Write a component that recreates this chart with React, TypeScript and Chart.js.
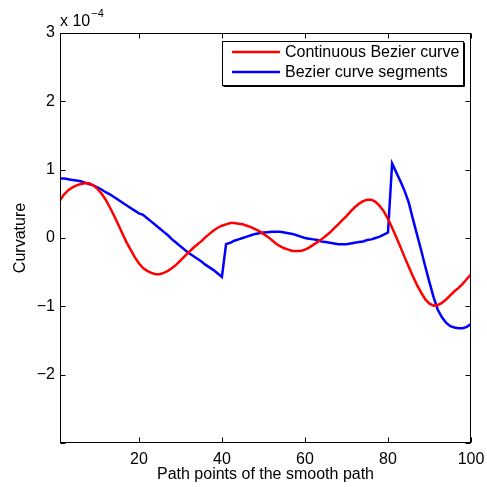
import { useEffect, useRef } from "react";
import { Chart, registerables } from "chart.js";

Chart.register(...registerables);

// Curvature values in units of 1e-4, one per path point (1..100)
const CONTINUOUS = [
  0.55, 0.64, 0.70, 0.74, 0.77, 0.79, 0.80, 0.80, 0.77, 0.72,
  0.65, 0.56, 0.45, 0.33, 0.20, 0.07, -0.06, -0.17, -0.28, -0.37,
  -0.44, -0.48, -0.51, -0.53, -0.53, -0.51, -0.48, -0.44, -0.39, -0.33,
  -0.27, -0.21, -0.15, -0.10, -0.05, 0.01, 0.06, 0.11, 0.15, 0.18,
  0.20, 0.22, 0.22, 0.21, 0.20, 0.18, 0.16, 0.13, 0.10, 0.06,
  0.02, -0.03, -0.08, -0.12, -0.15, -0.17, -0.19, -0.19, -0.19, -0.17,
  -0.14, -0.10, -0.06, -0.02, 0.03, 0.08, 0.14, 0.20, 0.26, 0.32,
  0.39, 0.45, 0.50, 0.54, 0.56, 0.56, 0.53, 0.47, 0.39, 0.28,
  0.15, 0.01, -0.13, -0.28, -0.42, -0.56, -0.69, -0.80, -0.90, -0.96,
  -0.99, -0.98, -0.95, -0.90, -0.84, -0.78, -0.73, -0.67, -0.60, -0.53,
];

const SEGMENTS = [
  0.87, 0.87, 0.86, 0.85, 0.84, 0.83, 0.81, 0.79, 0.77, 0.74,
  0.71, 0.67, 0.64, 0.60, 0.56, 0.52, 0.48, 0.44, 0.40, 0.36,
  0.34, 0.29, 0.24, 0.19, 0.14, 0.09, 0.04, -0.02, -0.07, -0.12,
  -0.17, -0.22, -0.26, -0.30, -0.34, -0.39, -0.43, -0.47, -0.52, -0.57,
  -0.09, -0.07, -0.04, -0.02, 0.00, 0.02, 0.04, 0.06, 0.07, 0.08,
  0.085, 0.09, 0.09, 0.09, 0.08, 0.07, 0.06, 0.04, 0.02, 0.00,
  -0.01, -0.02, -0.03, -0.05, -0.06, -0.07, -0.08, -0.09, -0.09, -0.09,
  -0.08, -0.07, -0.06, -0.05, -0.03, -0.02, 0.00, 0.02, 0.05, 0.08,
  1.09, 0.96, 0.83, 0.69, 0.52, 0.28, 0.05, -0.18, -0.42, -0.65,
  -0.87, -1.05, -1.16, -1.24, -1.29, -1.31, -1.32, -1.32, -1.30, -1.26,
];

const X_TICKS = [20, 40, 60, 80, 100];
const Y_TICKS = [-3, -2, -1, 0, 1, 2, 3];
const SERIES_NAMES = ["Continuous Bezier curve", "Bezier curve segments"];
const SERIES_COLORS = ["#ff0000", "#0000ff"];
const X_TITLE = "Path points of the smooth path";
const Y_TITLE = "Curvature";
const EXPONENT_BASE = "x 10";
const EXPONENT = "\u22124";

const FONT = "'Liberation Sans', Arial, Helvetica, sans-serif";

export default function App() {
  const ref = useRef<HTMLCanvasElement>(null);

  useEffect(() => {
    const canvas = ref.current;
    if (!canvas) return;

    const decor = {
      id: "matlabDecor",
      afterDraw(chart: any) {
        const { ctx, chartArea, scales } = chart;
        const { left, right, top, bottom } = chartArea;
        const L = Math.round(left) + 0.5;
        const R = Math.round(right) - 0.5;
        const T = Math.round(top) + 0.5;
        const B = Math.round(bottom) - 0.5;
        ctx.save();
        ctx.strokeStyle = "#000";
        ctx.lineWidth = 1;
        ctx.strokeRect(L, T, R - L, B - T);
        const tl = 5;
        ctx.beginPath();
        for (const v of X_TICKS) {
          const p = Math.round(scales.x.getPixelForValue(v)) + 0.5;
          ctx.moveTo(p, B);
          ctx.lineTo(p, B - tl);
          ctx.moveTo(p, T);
          ctx.lineTo(p, T + tl);
        }
        for (const v of Y_TICKS) {
          const p = Math.round(scales.y.getPixelForValue(v)) + 0.5;
          ctx.moveTo(L, p);
          ctx.lineTo(L + tl, p);
          ctx.moveTo(R, p);
          ctx.lineTo(R - tl, p);
        }
        ctx.stroke();

        // exponent label
        ctx.fillStyle = "#000";
        ctx.textAlign = "left";
        ctx.textBaseline = "alphabetic";
        ctx.font = `16px ${FONT}`;
        ctx.fillText(EXPONENT_BASE, left, top - 7);
        const w = ctx.measureText(EXPONENT_BASE).width;
        ctx.font = `11px ${FONT}`;
        ctx.fillText(EXPONENT, left + w + 1, top - 16);

        // legend
        const lw = 241;
        const lh = 44;
        const lx = Math.round(right) - 8 - lw;
        const ly = Math.round(top) + 8;
        ctx.fillStyle = "#fff";
        ctx.fillRect(lx, ly, lw, lh);
        ctx.strokeStyle = "#000";
        ctx.lineWidth = 1;
        ctx.strokeRect(lx + 0.5, ly + 0.5, lw, lh);
        ctx.beginPath();
        ctx.moveTo(lx + 1.5, ly + lh + 1.5);
        ctx.lineTo(lx + lw + 1.5, ly + lh + 1.5);
        ctx.lineTo(lx + lw + 1.5, ly + 1.5);
        ctx.stroke();
        ctx.font = `16px ${FONT}`;
        ctx.textBaseline = "middle";
        SERIES_NAMES.forEach((name, i) => {
          const yy = ly + 11 + i * 20;
          ctx.strokeStyle = SERIES_COLORS[i];
          ctx.lineWidth = 2.5;
          ctx.beginPath();
          ctx.moveTo(lx + 10, yy);
          ctx.lineTo(lx + 58, yy);
          ctx.stroke();
          ctx.fillStyle = "#000";
          ctx.fillText(name, lx + 63, yy + 1);
        });
        ctx.restore();
      },
    };

    const mkData = (arr: number[]) => arr.map((v, i) => ({ x: i + 1, y: v }));

    const chart = new Chart(canvas, {
      type: "line",
      data: {
        datasets: [
          {
            label: SERIES_NAMES[0],
            data: mkData(CONTINUOUS),
            borderColor: SERIES_COLORS[0],
            borderWidth: 2.5,
            pointRadius: 0,
            tension: 0,
            fill: false,
          },
          {
            label: SERIES_NAMES[1],
            data: mkData(SEGMENTS),
            borderColor: SERIES_COLORS[1],
            borderWidth: 2.5,
            pointRadius: 0,
            tension: 0,
            fill: false,
          },
        ],
      },
      options: {
        animation: false,
        responsive: false,
        events: [],
        layout: { padding: { top: 33, right: 16, left: 0, bottom: 0 } },
        plugins: { legend: { display: false }, tooltip: { enabled: false } },
        scales: {
          x: {
            type: "linear",
            min: 1,
            max: 100,
            afterBuildTicks: (s: any) => {
              s.ticks = X_TICKS.map((v) => ({ value: v }));
            },
            afterFit: (s: any) => {
              s.height = 44;
              s.paddingLeft = 0;
              s.paddingRight = 0;
            },
            grid: { display: false, drawTicks: false },
            border: { display: false },
            ticks: {
              color: "#000",
              font: { family: FONT, size: 16 },
              padding: 7,
              maxRotation: 0,
              autoSkip: false,
              callback: (v: any) => String(v),
            },
            title: {
              display: true,
              text: X_TITLE,
              color: "#000",
              font: { family: FONT, size: 16 },
              padding: { top: 0, bottom: 3 },
            },
          },
          y: {
            type: "linear",
            min: -3,
            max: 3,
            afterBuildTicks: (s: any) => {
              s.ticks = Y_TICKS.map((v) => ({ value: v }));
            },
            afterFit: (s: any) => {
              s.width = 60;
              s.paddingTop = 0;
              s.paddingBottom = 0;
            },
            grid: { display: false, drawTicks: false },
            border: { display: false },
            ticks: {
              color: "#000",
              font: { family: FONT, size: 16 },
              padding: 5,
              autoSkip: false,
              callback: (v: any) =>
                v === -3 ? "" : v < 0 ? "\u2212" + Math.abs(v) : String(v),
            },
            title: {
              display: true,
              text: Y_TITLE,
              color: "#000",
              font: { family: FONT, size: 16 },
              padding: { top: 11, bottom: 0 },
            },
          },
        },
      },
      plugins: [decor],
    });

    return () => chart.destroy();
  }, []);

  return (
    <div
      style={{
        position: "absolute",
        left: 0,
        top: 0,
        width: 487,
        height: 487,
        background: "#fff",
      }}
    >
      <canvas ref={ref} width={487} height={487} style={{ display: "block" }} />
    </div>
  );
}
